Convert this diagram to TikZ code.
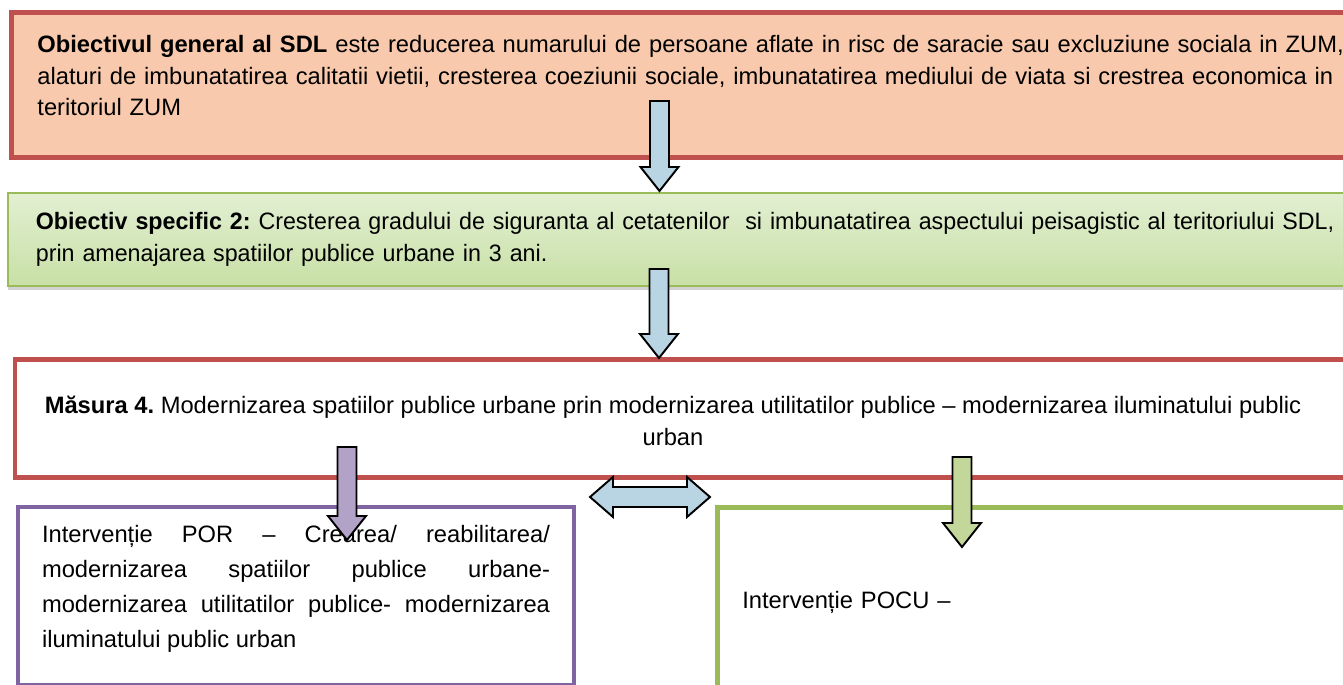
\documentclass[tikz,border=0pt]{standalone}
\usepackage{fontspec}
\setmainfont{Liberation Sans}
\usetikzlibrary{shadows}

\newdimen\px \px=0.02cm

\definecolor{goalfill}{RGB}{248,201,172}
\definecolor{goalred}{RGB}{192,80,77}
\definecolor{specgreen}{RGB}{155,187,89}
\definecolor{spectop}{RGB}{226,239,210}
\definecolor{specbottom}{RGB}{200,224,166}
\definecolor{porpurple}{RGB}{128,100,162}
\definecolor{arrowblue}{RGB}{185,212,226}
\definecolor{arrowpurple}{RGB}{179,162,199}
\definecolor{arrowgreen}{RGB}{196,215,155}

\tikzset{
  boxtext/.style={font=\fontsize{13.5pt}{17.9pt}\selectfont\frenchspacing, inner ysep=0pt},
  goalbox/.style={boxtext, draw=goalred, line width=2.8pt, fill=goalfill,
    inner xsep=26\px, align=left},
  specbox/.style={boxtext,
    font=\fontsize{13.5pt}{17.9pt}\selectfont\frenchspacing\addfontfeatures{FakeStretch=0.98},
    draw=specgreen, line width=1pt,
    top color=spectop, bottom color=specbottom,
    drop shadow={shadow xshift=0pt, shadow yshift=-4\px, opacity=0.35},
    inner xsep=28\px, align=left},
  measbox/.style={draw=goalred, line width=2.8pt, fill=white},
  porbox/.style={boxtext, font=\fontsize{13.5pt}{20pt}\selectfont\frenchspacing,
    draw=porpurple, line width=2.3pt, inner xsep=24\px, align=justify},
  pocubox/.style={boxtext, draw=specgreen, line width=2.6pt,
    inner xsep=25\px, align=left},
  blockline/.style={draw=black, line width=1.1pt, line join=miter},
}

% vertical block arrow: fill, x, top, tip
\newcommand{\downblock}[4]{%
  \draw[blockline, fill=#1] (#2-9.5,#3) -- (#2+9.5,#3) -- (#2+9.5,#4-24)
    -- (#2+19,#4-24) -- (#2,#4) -- (#2-19,#4-24) -- (#2-9.5,#4-24) -- cycle;}

\begin{document}
\begin{tikzpicture}[x=0.02cm, y=-0.02cm]

\useasboundingbox (0,0) rectangle (1343,685);
\clip (0,0) rectangle (1343,685);

% -----------------------------
% General objective
% -----------------------------
\node[goalbox, anchor=north west, text width=1330\px, minimum height=145.5\px]
  (gen) at (9,10) {\textbf{Obiectivul general al SDL} este reducerea numarului de persoane aflate in risc de saracie sau excluziune sociala in ZUM,\\
  alaturi de imbunatatirea calitatii vietii, cresterea coeziunii sociale, imbunatatirea mediului de viata si crestrea economica in\\
  teritoriul ZUM\rule[-19\px]{0pt}{0pt}};

% -----------------------------
% Specific objective
% -----------------------------
\node[specbox, anchor=north west, text width=1330\px, minimum height=93\px]
  (spec) at (7,192) {\textbf{Obiectiv specific 2:} Cresterea gradului de siguranta al cetatenilor \ si imbunatatirea aspectului peisagistic al teritoriului SDL,\\
  prin amenajarea spatiilor publice urbane in 3 ani.};

% -----------------------------
% Measure
% -----------------------------
\node[measbox, anchor=north west, minimum width=1360\px, minimum height=117.5\px]
  (meas) at (12.5,357.5) {};
\node[boxtext, align=center] (meastext) at (673,421)
  {\textbf{Măsura 4.} Modernizarea spatiilor publice urbane prin modernizarea utilitatilor publice – modernizarea iluminatului public\\ urban};

% -----------------------------
% Interventions
% -----------------------------
\node[porbox, anchor=north west, text width=508\px, minimum height=178\px]
  (por) at (16,505) {Intervenție POR – Crearea/ reabilitarea/\linebreak
  modernizarea spatiilor publice urbane-\linebreak
  modernizarea utilitatilor publice- modernizarea\linebreak
  iluminatului public urban\rule[-19\px]{0pt}{0pt}};

\node[pocubox, anchor=north west, text width=600\px, minimum height=190\px]
  (pocu) at (715,505) {Intervenție POCU –};

% -----------------------------
% Block arrows
% -----------------------------
\downblock{arrowblue}{659.5}{101}{191}    % general -> specific
\downblock{arrowblue}{659}{269}{358}      % specific -> measure
\downblock{arrowpurple}{347}{447}{540}    % measure -> POR
\downblock{arrowgreen}{962}{457}{547}     % measure -> POCU

% POR <-> POCU
\draw[blockline, fill=arrowblue] (590,497) -- (613,477) -- (613,487) -- (687,487)
  -- (687,477) -- (710,497) -- (687,517) -- (687,507) -- (613,507) -- (613,517) -- cycle;

\end{tikzpicture}
\end{document}
